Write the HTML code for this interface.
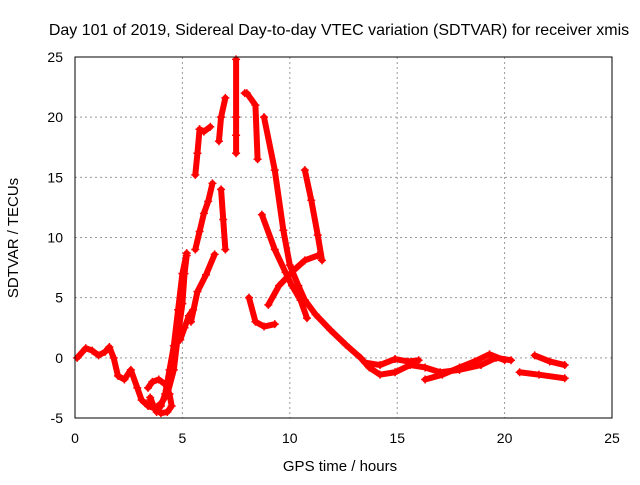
<!DOCTYPE html>
<html><head><meta charset="utf-8"><style>
body{margin:0;background:#fff}
svg{font-family:"Liberation Sans",sans-serif}
</style></head><body>
<svg id="chart" width="640" height="480" xmlns="http://www.w3.org/2000/svg">
<rect width="640" height="480" fill="#fff"/>
<text x="339" y="35" font-size="16" text-anchor="middle">Day 101 of 2019, Sidereal Day-to-day VTEC variation (SDTVAR) for receiver xmis</text>
<g id="grid"></g>
<g id="tracks"></g>
<rect x="75" y="57" width="537" height="361" fill="none" stroke="#000" stroke-width="1"/>
<g id="ticks"></g>
<text x="340" y="471" font-size="15" text-anchor="middle">GPS time / hours</text>
<text x="18" y="238" font-size="15" text-anchor="middle" transform="rotate(-90 18 238)">SDTVAR / TECUs</text>
</svg>
<script>
const xTicks=[0,5,10,15,20,25];
const yTicks=[-5,0,5,10,15,20,25];
const trackA_t=[0.1,0.5,0.8,1.1,1.4,1.6,1.8,2.0,2.3,2.6,2.9,3.1,3.4,3.7,4.0,4.3,4.6,4.8,5.0,5.1,5.2];
const trackA_v=[0,0.8,0.6,0.2,0.5,0.9,0,-1.5,-1.8,-1.0,-2.5,-3.5,-4.0,-4.2,-3.8,-3.0,-1,2,4.5,7,8.5];
const trackB_t=[3.5,3.8,4.0,4.2,4.4,4.6,4.8,5.0,5.2];
const trackB_v=[-3.5,-4.5,-4,-3,-1,1,4,7,8.7];
const trackB2_t=[3.4,3.6,3.9,4.2,4.4,4.5,4.3,4.0,3.7,3.5];
const trackB2_v=[-2.5,-2,-1.8,-2.2,-3,-4,-4.5,-4.6,-4.2,-3.3];
const trackC_t=[4.9,5.1,5.3,5.5];
const trackC_v=[1.5,2.5,3.5,4];
const trackD_t=[5.4,5.7,6.1,6.5];
const trackD_v=[3,5.5,6.9,8.6];
const trackE_t=[5.6,5.8,6.0,6.2,6.4];
const trackE_v=[9,10.5,12,13,14.5];
const trackF_t=[5.6,5.7,5.8];
const trackF_v=[15.2,17,19];
const trackG_t=[5.8,6.0,6.3];
const trackG_v=[19,18.8,19.2];
const trackH_t=[6.7,6.8,7.0];
const trackH_v=[18,20,21.6];
const trackJ_t=[6.8,6.9,7.0];
const trackJ_v=[14,11.5,9];
const trackK_t=[7.5,7.5,7.5,7.5];
const trackK_v=[17,18.5,20,24.8];
const trackL_t=[7.9,8.0,8.4,8.5];
const trackL_v=[22,22,21,16.5];
const trackO_t=[8.8,9.3,9.7,10.0,10.4,10.7,11.2,11.9,12.6,13.3,13.7,14.2,14.9,15.6,16.3,17.0,17.9,18.9,19.6,20.3];
const trackO_v=[20,15.6,10.6,7.7,6,4.8,3.6,2.3,1.1,0,-0.8,-1.4,-1.2,-0.6,-0.8,-1.2,-1,-0.6,0,-0.2];
const trackP_t=[8.7,9.3,9.8,10.1,10.5,10.8];
const trackP_v=[11.9,9,7.1,6,4.8,3.3];
const trackQ_t=[9.0,9.5,10.2,10.7,11.3];
const trackQ_v=[4.4,6,7.3,8.1,8.5];
const trackR_t=[10.7,11.0,11.3,11.5];
const trackR_v=[15.6,13.1,10.2,8.1];
const trackS_t=[8.1,8.4,8.8,9.3];
const trackS_v=[5,3,2.6,2.8];
const trackU_t=[16.3,17.1,17.9,18.6,19.3,20.0];
const trackU_v=[-1.8,-1.4,-0.8,-0.3,0.3,-0.2];
const trackV_t=[20.7,21.6,22.8];
const trackV_v=[-1.2,-1.4,-1.7];
const trackW_t=[21.4,22.1,22.8];
const trackW_v=[0.2,-0.3,-0.6];
const trackX_t=[13.5,14.2,14.9,15.5,16.0];
const trackX_v=[-0.4,-0.6,-0.1,-0.3,-0.2];
const tracks=[[trackA_t,trackA_v],[trackB_t,trackB_v],[trackB2_t,trackB2_v],[trackC_t,trackC_v],[trackD_t,trackD_v],[trackE_t,trackE_v],[trackF_t,trackF_v],[trackG_t,trackG_v],[trackH_t,trackH_v],[trackJ_t,trackJ_v],[trackK_t,trackK_v],[trackL_t,trackL_v],[trackO_t,trackO_v],[trackP_t,trackP_v],[trackQ_t,trackQ_v],[trackR_t,trackR_v],[trackS_t,trackS_v],[trackU_t,trackU_v],[trackV_t,trackV_v],[trackW_t,trackW_v],[trackX_t,trackX_v]];
const X0=75,X1=612,Y0=418,Y1=57;
function sx(t){return X0+(t-0)/(25-0)*(X1-X0);}
function sy(v){return Y0-(v+5)/(30)*(Y0-Y1);}
const NS="http://www.w3.org/2000/svg";
const grid=document.getElementById('grid'),ticks=document.getElementById('ticks'),tr=document.getElementById('tracks');
function mk(tag,attrs,parent){const e=document.createElementNS(NS,tag);for(const k in attrs)e.setAttribute(k,attrs[k]);parent.appendChild(e);return e;}
xTicks.forEach(t=>{
  const x=sx(t);
  if(t>0&&t<25){const g=mk('line',{x1:x,x2:x,y1:Y1,y2:Y0,stroke:'#999','stroke-dasharray':'2,3'},grid);
  
  }
  const l=mk('text',{x:x,y:443,'font-size':14,'text-anchor':'middle'},ticks);l.textContent=t;
  
  
});
yTicks.forEach(v=>{
  const y=sy(v);
  if(v>-5&&v<25){const g=mk('line',{x1:X0,x2:X1,y1:y,y2:y,stroke:'#999','stroke-dasharray':'2,3'},grid);
  
  }
  const l=mk('text',{x:63,y:y+5,'font-size':14,'text-anchor':'end'},ticks);l.textContent=v;
  
  
});
tracks.forEach(([ts,vs])=>{
  const pts=ts.map((t,i)=>sx(t)+','+sy(vs[i])).join(' ');
  const p=mk('polyline',{points:pts,fill:'none',stroke:'#f00','stroke-width':6,'stroke-linejoin':'round','stroke-linecap':'round'},tr);
  
  
  ts.forEach((t,i)=>{
    const x=sx(t),y=sy(vs[i]);
    const m=mk('path',{d:`M${x-4},${y}H${x+4}M${x},${y-4}V${y+4}`,stroke:'#f00','stroke-width':1.5},tr);
    
    
  });
});
</script>
</body></html>
